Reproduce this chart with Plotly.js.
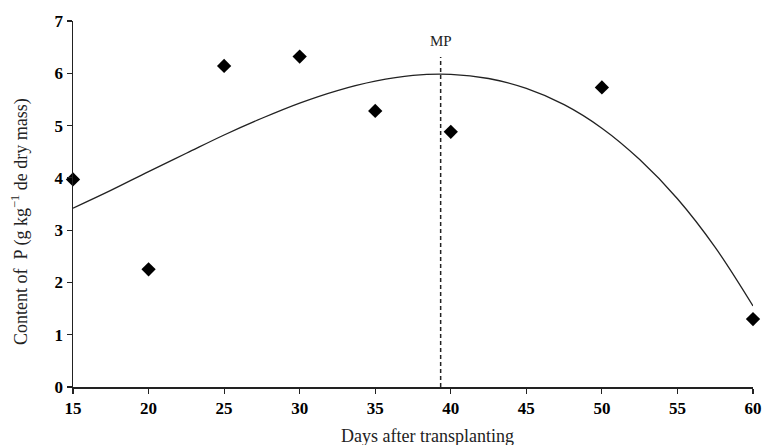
<!DOCTYPE html>
<html>
<head>
<meta charset="utf-8">
<script src="https://cdn.plot.ly/plotly-3.0.1.min.js"></script>
<style>html,body{margin:0;padding:0;background:#fff}#chart{width:763px;height:445px}</style>
</head>
<body>
<div id="chart"></div>
<script>
// Observed data
const days = [15, 20, 25, 30, 35, 40, 50, 60];
const contentP = [3.97, 2.25, 6.14, 6.32, 5.28, 4.88, 5.73, 1.30];

// Fitted trend line
const fitDays = [15, 17.5, 20, 22.5, 25, 27.5, 30, 32.5, 35, 37.5, 40, 42.5, 45, 47.5, 50, 52.5, 55, 57.5, 60];
const fitP = [3.42, 3.76, 4.12, 4.47, 4.82, 5.14, 5.43, 5.67, 5.85, 5.96, 5.98, 5.90, 5.71, 5.40, 4.95, 4.35, 3.60, 2.67, 1.55];

// Maximum point (MP) marker line
const mpDay = 39.33;
const mpLineY = [0, 6.31];
const mpLabel = "MP";
const mpLabelY = 6.62;

const xTicks = [15, 20, 25, 30, 35, 40, 45, 50, 55, 60];
const yTicks = [0, 1, 2, 3, 4, 5, 6, 7];
const xTitle = "Days after transplanting";
const yTitle = "Content of  P (g kg<sup>\u22121</sup> de dry mass)";

const serif = "Liberation Serif, Times New Roman, serif";

const traces = [
  {
    x: fitDays, y: fitP, type: "scatter", mode: "lines",
    line: {color: "#222", width: 1.3, shape: "spline"},
    hoverinfo: "skip", cliponaxis: false
  },
  {
    x: [mpDay, mpDay], y: mpLineY, type: "scatter", mode: "lines",
    line: {color: "#222", width: 1.5, dash: "4px,3px"},
    hoverinfo: "skip"
  },
  {
    x: days, y: contentP, type: "scatter", mode: "markers",
    marker: {symbol: "diamond", size: 11, color: "#000"},
    cliponaxis: false
  }
];

const layout = {
  width: 763, height: 445,
  margin: {l: 73, r: 10, t: 21, b: 58},
  paper_bgcolor: "#fff", plot_bgcolor: "#fff",
  showlegend: false,
  font: {family: serif, color: "#000"},
  xaxis: {
    range: [15, 60], tickvals: xTicks, ticktext: xTicks.map(String),
    showgrid: false, zeroline: false,
    showline: true, linecolor: "#222", linewidth: 1.5,
    ticks: "outside", ticklen: 5, tickwidth: 1.2, tickcolor: "#222",
    tickfont: {family: serif, size: 17, color: "#000", weight: "bold"}
  },
  yaxis: {
    range: [0, 7], tickvals: yTicks, ticktext: yTicks.map(String),
    showgrid: false, zeroline: false,
    showline: true, linecolor: "#222", linewidth: 1.5,
    ticks: "outside", ticklen: 5, tickwidth: 1.2, tickcolor: "#222",
    tickfont: {family: serif, size: 17, color: "#000", weight: "bold"}
  },
  annotations: [
    {x: mpDay, y: mpLabelY, xref: "x", yref: "y", text: mpLabel, showarrow: false,
     font: {family: serif, size: 15, color: "#222"}},
    {x: 0.522, y: 0, xref: "paper", yref: "paper", xanchor: "center", yanchor: "middle", yshift: -49,
     text: xTitle, showarrow: false, font: {family: serif, size: 18, color: "#222"}},
    {x: 0, y: 0.451, xref: "paper", yref: "paper", xanchor: "center", yanchor: "middle", xshift: -53,
     text: yTitle, textangle: -90, showarrow: false, font: {family: serif, size: 18, color: "#222"}}
  ]
};

Plotly.newPlot("chart", traces, layout, {displayModeBar: false, staticPlot: true});
</script>
</body>
</html>
